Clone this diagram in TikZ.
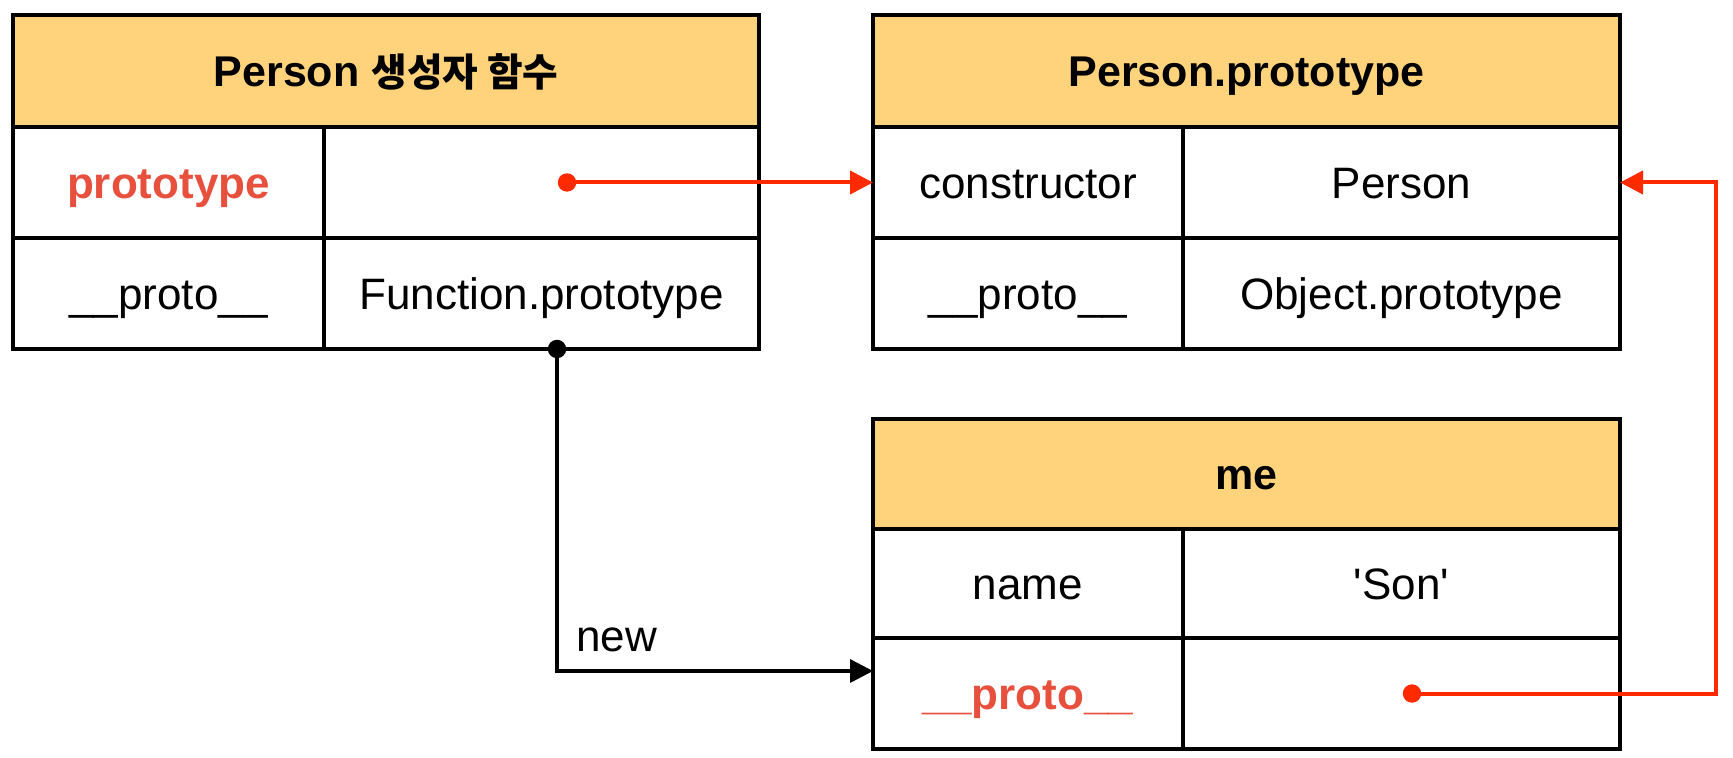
\documentclass[tikz,border=0pt]{standalone}
\usepackage{fontspec}
\setmainfont{Liberation Sans}
\newfontfamily\nomap{Liberation Sans}
\newfontfamily\kr{Noto Sans CJK KR}[Scale=0.9]
\usetikzlibrary{arrows.meta}
\definecolor{hdr}{HTML}{FED37B}
\definecolor{lnred}{HTML}{FF2A00}
\definecolor{txred}{HTML}{E8503E}
\tikzset{
  cell/.style={draw=black, line width=2pt, inner sep=0pt, outer sep=0pt, anchor=north west,
    font=\fontsize{22}{26}\selectfont, text height=15.75pt, text depth=0pt},
  hcell/.style={cell, fill=hdr, font=\bfseries\fontsize{21.5}{26}\selectfont},
  dot/.style={circle, inner sep=0pt, outer sep=0pt, minimum size=9.2pt},
  blk/.style={draw=black, line width=1.75pt, -{Triangle[length=11.5pt,width=11.5pt]}},
  redc/.style={draw=lnred, line width=2pt, -{Triangle[length=11.5pt,width=11.5pt]}},
  lbl/.style={inner sep=0pt, font=\fontsize{22}{26}\selectfont}
}
\begin{document}
\begin{tikzpicture}[x=0.5pt,y=-0.5pt]
\useasboundingbox (0,0) rectangle (1733,758);
% Person constructor
\node[hcell, minimum width=373pt, minimum height=56pt] (p1h) at (13,15) {Person {\kr 생성자 함수}};
\node[cell, minimum width=155.5pt, minimum height=55.5pt] (p1k1) at (13,127) {\textbf{\color{txred}prototype}};
\node[cell, minimum width=217.5pt, minimum height=55.5pt] (p1v1) at (324,127) {};
\node[cell, minimum width=155.5pt, minimum height=55.5pt] (p1k2) at (13,238) {\_\_proto\_\_};
\node[cell, minimum width=217.5pt, minimum height=55.5pt] (p1v2) at (324,238) {Function.prototype};
% Person.prototype
\node[hcell, minimum width=373.5pt, minimum height=56pt] (p2h) at (873,15) {Person.prototype};
\node[cell, minimum width=155pt, minimum height=55.5pt] (p2k1) at (873,127) {constructor};
\node[cell, minimum width=218.5pt, minimum height=55.5pt] (p2v1) at (1183,127) {Person};
\node[cell, minimum width=155pt, minimum height=55.5pt] (p2k2) at (873,238) {\_\_proto\_\_};
\node[cell, minimum width=218.5pt, minimum height=55.5pt] (p2v2) at (1183,238) {Object.prototype};
% me
\node[hcell, minimum width=373.5pt, minimum height=55pt] (p3h) at (873,419) {me};
\node[cell, minimum width=155pt, minimum height=54.5pt] (p3k1) at (873,529) {name};
\node[cell, minimum width=218.5pt, minimum height=54.5pt] (p3v1) at (1183,529) {{\nomap 'Son'}};
\node[cell, minimum width=155pt, minimum height=55.5pt] (p3k2) at (873,638) {\textbf{\color{txred}\_\_proto\_\_}};
\node[cell, minimum width=218.5pt, minimum height=55.5pt] (p3v2) at (1183,638) {};
% dots and coordinates
\node[dot, fill=lnred] (d1) at (567,182.5) {};
\node[dot, fill=black] (d2) at (557,349) {};
\node[dot, fill=lnred] (d3) at (1412,693.5) {};
\coordinate (c1) at (873,671);
\coordinate (rt) at (1716,182.5);
% connectors
\draw[redc] (d1.center) -- (p2k1.west);
\draw[blk] (d2.center) |- (c1);
\draw[redc] (d3.center) -| (rt) -- (p2v1.east);
\node[lbl, anchor=base west] (newlbl) at (576,651) {new};
\end{tikzpicture}
\end{document}
